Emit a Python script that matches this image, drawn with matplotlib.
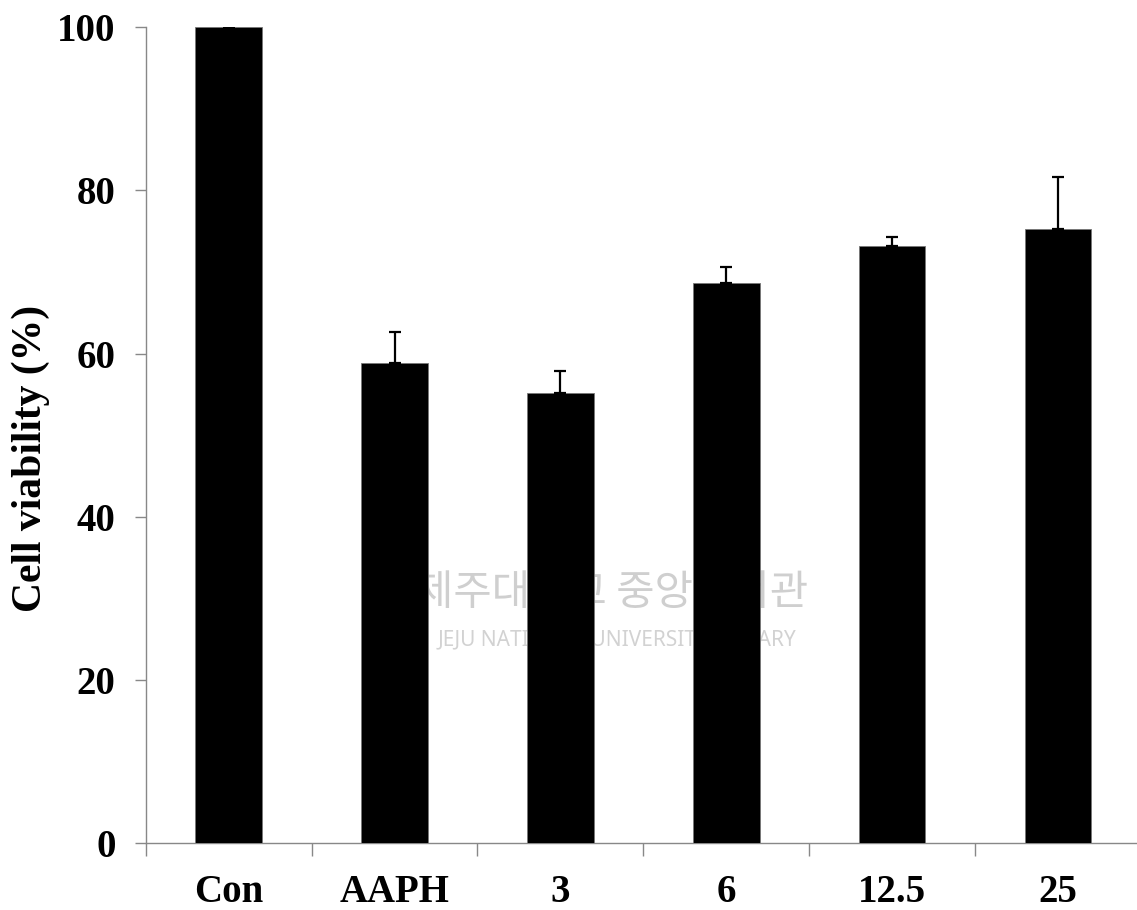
import matplotlib
matplotlib.use("Agg")
import matplotlib.pyplot as plt

categories = ['Con', 'AAPH', '3', '6', '12.5', '25']
values = [100, 58.8, 55.2, 68.6, 73.2, 75.2]
errors = [0, 3.8, 2.7, 2.0, 1.1, 6.4]
yticks = [0, 20, 40, 60, 80, 100]

W, H = 1137, 910
fig = plt.figure(figsize=(W / 100, H / 100), dpi=100)
ax = fig.add_axes([145.7 / W, 1 - 843.3 / H, 995.4 / W, (843.3 - 27) / H])

x = list(range(len(categories)))
ax.bar(x, values, width=0.4, color='black', edgecolor='#777777', linewidth=0.6, zorder=3)
ax.errorbar(x, values, yerr=[[0] * len(errors), errors], fmt='none', ecolor='black',
            elinewidth=1.6, capsize=4.3, capthick=1.6, zorder=4)

# faint watermark (display coordinates, origin bottom-left)
ax.text(612, H - 594, '제주대학교 중앙도서관', transform=None, fontsize=30,
        family=['Noto Sans CJK KR', 'DejaVu Sans'], color='#cfcfcf',
        ha='center', va='center', zorder=1)
ax.text(617, H - 640, 'JEJU NATIONAL UNIVERSITY LIBRARY', transform=None, fontsize=15,
        family=['Noto Sans', 'DejaVu Sans'], color='#d2d2d2',
        ha='center', va='center', zorder=1)

ax.set_xlim(-0.5, len(categories) - 0.5)
ax.set_ylim(0, 100)
ax.set_yticks(yticks)
ax.set_yticklabels([str(t) for t in yticks])
ax.set_xticks(x)
ax.set_xticklabels(categories)
ax.set_xticks([i - 0.5 for i in range(len(categories) + 1)], minor=True)

for s in ['top', 'right']:
    ax.spines[s].set_visible(False)
for s in ['left', 'bottom']:
    ax.spines[s].set_color('#888888')
    ax.spines[s].set_linewidth(1.0)

for lab in ax.get_yticklabels() + ax.get_xticklabels():
    lab.set_fontfamily('Liberation Serif')
    lab.set_fontweight('bold')
    lab.set_fontsize(28)

ax.tick_params(axis='y', which='major', direction='out', length=7.7, width=1.0,
               color='#888888', pad=14)
ax.tick_params(axis='x', which='major', length=0, pad=22)
ax.tick_params(axis='x', which='minor', direction='out', length=9, width=1.0,
               color='#888888')

fig.text(31, H - 458, 'Cell viability (%)', transform=None, rotation=90,
         ha='center', va='center', fontsize=30, family='Liberation Serif',
         weight='bold')

fig.savefig('out.png', dpi=100)
